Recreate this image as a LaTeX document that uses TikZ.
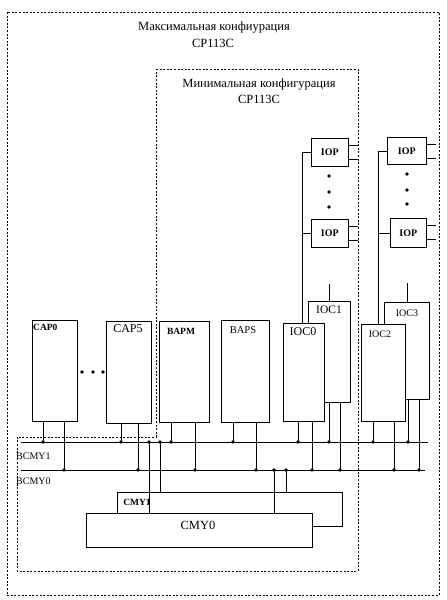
\documentclass[tikz,border=0pt]{standalone}
\usepackage{fontspec}
\setmainfont{Liberation Serif}
\usetikzlibrary{calc}
\tikzset{
  frame/.style={draw,dash pattern=on 2pt off 1.6pt,line width=0.7pt},
  unit/.style={draw,fill=white,inner sep=0pt,anchor=north west,line width=0.7pt},
  wire/.style={draw,line width=0.7pt},
  caption/.style={font=\fontsize{12.5}{14}\selectfont,inner sep=0pt},
  tag/.style={font=\fontsize{10}{12}\selectfont,inner sep=0pt},
  bigtag/.style={font=\fontsize{12}{14}\selectfont,inner sep=0pt}
}

\begin{document}
\begin{tikzpicture}[x=1pt,y=-1pt]
  \useasboundingbox (0,0) rectangle (447,600);
  \draw[frame] (7,12) rectangle (439,595);
  \draw[frame] (156,69) -- (358,69) -- (358,571) -- (17,571) -- (17,437) -- (156,437) -- cycle;
  \node[caption] (maxcfg) at (214,28) {Максимальная конфиурация};
  \node[caption] (maxcp) at (213,43) {CP113C};
  \node[caption] (mincfg) at (259,85) {Минимальная конфигурация};
  \node[caption] (mincp) at (259,99) {CP113C};

  \foreach \n/\x/\y/\w/\h in {cap0/32/320/45/101, cap5/106/321/45/102,
      bapm/159/321/50/101, baps/221/320/48/102, ioc1/308/301/42/101,
      ioc0/283/323/41/98, ioc3/384/302/45/97, ioc2/361/324/44/97,
      cmy1/117/492/225/34, cmy0/86/513/226/34, iopa/311/138/37/28,
      iopb/311/219/37/28, iopc/387/137/39/27, iopd/390/218/36/29}
    \node[unit,minimum width=\w,minimum height=\h] (\n) at (\x,\y) {};

  \node[tag,font=\fontsize{9.5}{11}\bfseries,anchor=west] (cap0t) at (33,327) {CAP0};
  \node[bigtag] (cap5t) at (128,329) {CAP5};
  \node[tag,font=\fontsize{9.5}{11}\bfseries] (bapmt) at (181,331) {BAPM};
  \node[tag,font=\fontsize{10.5}{12}\selectfont] (bapst) at (243,330) {BAPS};
  \node[bigtag] (ioc0t) at (303,332) {IOC0};
  \node[bigtag,font=\fontsize{11.5}{13}\selectfont] (ioc1t) at (329,310) {IOC1};
  \node[tag] (ioc2t) at (380,334) {IOC2};
  \node[tag] (ioc3t) at (407,313) {IOC3};
  \foreach \n in {iopa,iopb,iopc,iopd}
    \node[tag,font=\fontsize{10}{12}\bfseries] (\n t) at (\n) {IOP};
  \node[tag,font=\fontsize{9.5}{11}\bfseries] (cmy1t) at (137,502) {CMY1};
  \node[caption] (cmy0t) at (198,525) {CMY0};

  \coordinate (b1l) at (21,442);
  \coordinate (b1r) at (428,442);
  \coordinate (b0l) at (21,470);
  \coordinate (b0r) at (425,470);
  \draw[wire] (b1l) -- (b1r);
  \draw[wire] (b0l) -- (b0r);
  \node[tag,anchor=west] (bus1t) at (16,456) {BCMY1};
  \node[tag,anchor=west] (bus0t) at (16,481) {BCMY0};

  \foreach \n/\a/\b in {cap0/11/32, cap5/15/32, bapm/12/36, baps/12/35,
      ioc0/15/29, ioc1/21/32, ioc2/12/33, ioc3/24/35} {
    \draw[wire] ([xshift=\a]\n.south west) coordinate (t) -- (t |- b1l);
    \fill (t |- b1l) circle (1.8);
    \draw[wire] ([xshift=\b]\n.south west) coordinate (t) -- (t |- b0l);
    \fill (t |- b0l) circle (1.8);
  }
  \foreach \n/\a/\b in {cmy0/63/188, cmy1/43/169} {
    \draw[wire] ([xshift=\a]\n.north west) coordinate (t) -- (t |- b1l);
    \fill (t |- b1l) circle (1.8);
    \draw[wire] ([xshift=\b]\n.north west) coordinate (t) -- (t |- b0l);
    \fill (t |- b0l) circle (1.8);
  }

  \draw[wire] (iopa.west) -- ++(-9,0) coordinate (r0) -- (r0 |- ioc0.north);
  \draw[wire] (iopb.west) -- (iopb.west -| r0);
  \draw[wire] (iopc.west) -- ++(-9,0) coordinate (r1) -- (r1 |- ioc2.north);
  \draw[wire] (iopd.west) -- (iopd.west -| r1);
  \draw[wire] (ioc1.north) -- ++(0,-17);
  \draw[wire] (ioc3.north) -- ++(0,-19);
  \foreach \n in {iopa,iopb,iopc,iopd} {
    \draw[wire] ($(\n.north east)+(0,7)$) -- ++(9,0);
    \draw[wire] ($(\n.north east)+(0,21)$) -- ++(9,0);
  }

  \foreach \y in {176,192,207} \fill (329,\y) circle (1.8);
  \foreach \y in {174,190,204} \fill (407,\y) circle (1.8);
  \foreach \x in {82,93,103} \fill (\x,372) circle (1.8);
\end{tikzpicture}
\end{document}
